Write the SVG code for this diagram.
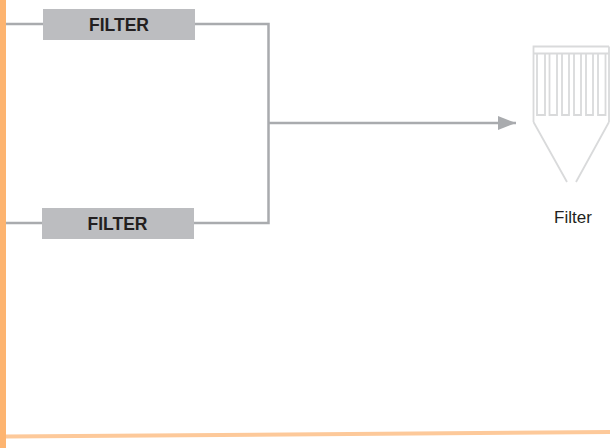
<svg xmlns="http://www.w3.org/2000/svg" width="610" height="448" viewBox="0 0 610 448">
<style>
.box{fill:#bcbdc0}
.t{font-family:"Liberation Sans",Arial,sans-serif;font-size:17.500px;font-weight:bold;fill:#231f20;text-anchor:middle}
.c{fill:none;stroke:#a9abae;stroke-width:2.500}
.f{fill:none;stroke:#d9dadb;stroke-width:1.800}
</style>
<defs><marker id="a" markerUnits="userSpaceOnUse" markerWidth="19" markerHeight="16" refX="18" refY="7" orient="auto"><path d="M0 0L18 7L0 14Z" fill="#a9abae"/></marker></defs>
<rect width="610" height="448" fill="#fff"/>
<g id="frame">
<path d="M6 436.500L610 432" fill="none" stroke="#fdc99a" stroke-width="4"/>
<rect x="0" y="0" width="6" height="448" fill="#fdb470"/>
</g>
<g id="connectors">
<path class="c" d="M6 24H44M194 24H268.500V223H194M6 223H42"/>
<path class="c" d="M268.500 123H516" marker-end="url(#a)"/>
</g>
<g id="filter-1"><rect class="box" x="43" y="9" width="152" height="31"/><text class="t" x="119" y="31">FILTER</text></g>
<g id="filter-2"><rect class="box" x="42" y="208" width="152" height="31"/><text class="t" x="117.500" y="230">FILTER</text></g>
<g id="filter-unit">
<path class="f" d="M533.500 122V46.500H609M533.500 53.500H609M533.500 122L567 182M609 122L576 182M609 46.500V122"/>
<path class="f" d="M537 54V115H545V54M549.500 54V115H557V54M562 54V115H569V54M574 54V115H581V54M586 54V115H593V54M598 54V115H605.500V54"/>
<text x="573" y="223" font-family="Liberation Sans,Arial,sans-serif" font-size="17" fill="#231f20" text-anchor="middle">Filter</text>
</g>
</svg>
